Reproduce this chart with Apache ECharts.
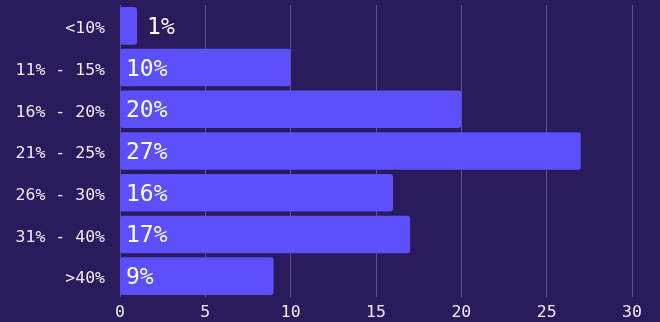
<!DOCTYPE html>
<html><head><meta charset="utf-8">
<script src="https://cdn.jsdelivr.net/npm/echarts@6/dist/echarts.min.js"></script>
<style>html,body{margin:0;padding:0;background:#2a1b5c;}#c{width:660px;height:322px;}</style>
</head><body><div id="c"></div>
<script>
const categories = ['<10%', '11% - 15%', '16% - 20%', '21% - 25%', '26% - 30%', '31% - 40%', '>40%'];
const values = [1, 10, 20, 27, 16, 17, 9];
const xTicks = [0, 5, 10, 15, 20, 25, 30];

const font = '"DejaVu Sans Mono", "Liberation Mono", monospace';
const chart = echarts.init(document.getElementById('c'));
chart.setOption({
  backgroundColor: '#2a1b5c',
  animation: false,
  grid: { left: 120, right: 28, top: 5, bottom: 25, containLabel: false },
  xAxis: {
    type: 'value', min: xTicks[0], max: xTicks[xTicks.length - 1], interval: 5,
    axisLine: { show: false }, axisTick: { show: false },
    splitLine: { show: true, lineStyle: { color: '#5e5290', width: 1 } },
    axisLabel: { color: '#ecebf2', fontFamily: font, fontSize: 16.5, margin: 7 }
  },
  yAxis: {
    type: 'category', data: categories, inverse: true,
    axisLine: { show: false }, axisTick: { show: false },
    axisLabel: {
      color: '#ecebf2', fontFamily: font, fontSize: 16.5, margin: 15,
      formatter: v => '{a|' + v + '}',
      rich: { a: { color: '#ecebf2', fontFamily: font, fontSize: 16.5, padding: [6, 0, 0, 0] } }
    }
  },
  series: [{
    type: 'bar',
    data: values.map((v, i) => ({
      value: v,
      label: { position: i === 0 ? 'right' : 'insideLeft', distance: i === 0 ? 10 : 6 }
    })),
    barCategoryGap: '10%',
    itemStyle: { color: '#5b50fb', borderRadius: 3 },
    label: {
      show: true, color: '#ffffff', fontFamily: font, fontSize: 23, offset: [0, 2],
      formatter: p => p.value + '%'
    }
  }]
});
</script></body></html>
